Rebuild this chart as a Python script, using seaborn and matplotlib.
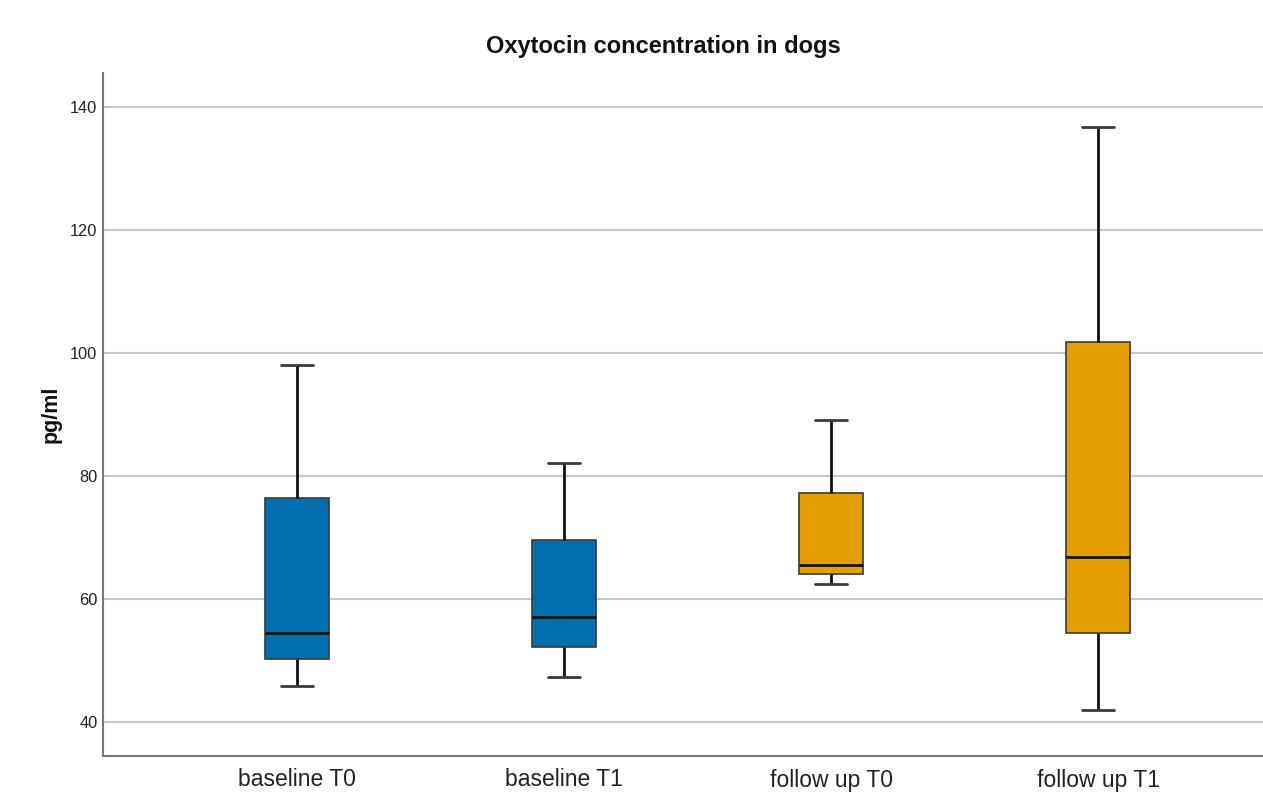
import matplotlib
matplotlib.use("Agg")
import matplotlib.pyplot as plt
import seaborn as sns
import pandas as pd

# Five-number summaries (min, Q1, median, Q3, max) in pg/ml
groups = ["baseline T0", "baseline T1", "follow up T0", "follow up T1"]
baseline_t0 = [45.9, 50.2, 54.5, 76.4, 98.1]
baseline_t1 = [47.3, 52.2, 57.1, 69.6, 82.1]
follow_up_t0 = [62.4, 64.1, 65.5, 77.2, 89.1]
follow_up_t1 = [42.0, 54.5, 66.8, 101.8, 136.7]
group_colors = ["#0070B0", "#0070B0", "#E5A000", "#E5A000"]
y_ticks = [40, 60, 80, 100, 120, 140]

series = [baseline_t0, baseline_t1, follow_up_t0, follow_up_t1]
df = pd.DataFrame({
    "group": [g for g, vals in zip(groups, series) for _ in vals],
    "value": [v for vals in series for v in vals],
})

sns.set_style("white")
plt.rcParams["font.family"] = ["Liberation Sans", "DejaVu Sans"]

fig = plt.figure(figsize=(12.63, 7.95), dpi=100)
ax = fig.add_axes([103 / 1263, 1 - 756 / 795, 1 - 103 / 1263, (756 - 73) / 795])

sns.boxplot(
    data=df, x="group", y="value", hue="group", order=groups, hue_order=groups,
    palette=dict(zip(groups, group_colors)), legend=False, saturation=1,
    whis=(0, 100), width=0.24, showfliers=False, ax=ax,
    boxprops=dict(edgecolor="#3a3a3a", linewidth=1.2),
    medianprops=dict(color="#111111", linewidth=2),
    whiskerprops=dict(color="#111111", linewidth=2),
    capprops=dict(color="#3a3a3a", linewidth=2),
)

ax.set_xlim(-0.727, 3.618)
ax.set_ylim(34.47, 145.53)
ax.set_yticks(y_ticks)
ax.set_yticklabels([str(t) for t in y_ticks], fontsize=11.8, color="#222222")
ax.tick_params(axis="x", labelsize=16.5, colors="#222222", length=0, pad=9)
ax.tick_params(axis="y", length=0, pad=4)
ax.yaxis.grid(True, color="#c8c8c8", linewidth=1.5)
ax.set_axisbelow(True)

for side in ["top", "right"]:
    ax.spines[side].set_visible(False)
for side in ["left", "bottom"]:
    ax.spines[side].set_color("#777777")
    ax.spines[side].set_linewidth(1.5)

ax.set_xlabel("")
ax.set_ylabel("pg/ml", fontsize=15.5, fontweight="bold", color="#111111", labelpad=6)
fig.text(663 / 1263, 1 - 47 / 795, "Oxytocin concentration in dogs",
         ha="center", va="center", fontsize=17, fontweight="bold", color="#111111")

fig.savefig("out.png", dpi=100)
